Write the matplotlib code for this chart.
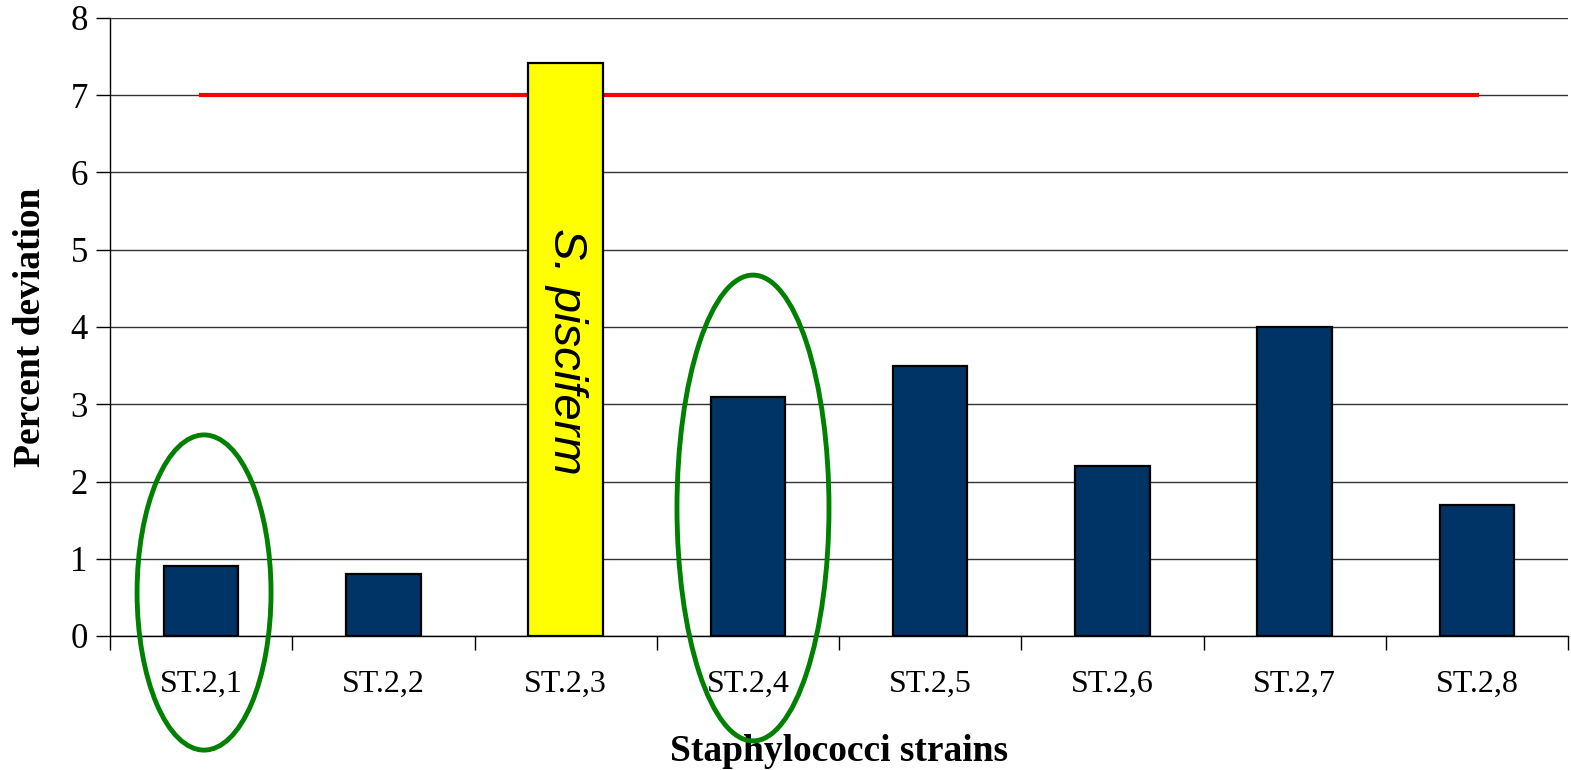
import matplotlib
matplotlib.use("Agg")
import matplotlib.pyplot as plt
from matplotlib.patches import Ellipse
import numpy as np

strains = ["ST.2,1", "ST.2,2", "ST.2,3", "ST.2,4", "ST.2,5", "ST.2,6", "ST.2,7", "ST.2,8"]
deviation = [0.9, 0.8, 7.42, 3.1, 3.5, 2.2, 4.0, 1.7]
threshold = 7.0
highlight = "ST.2,3"
highlight_label = "S. pisciferm"
circled = ["ST.2,1", "ST.2,4"]

navy = "#003366"
yellow = "#FFFF00"

plt.rcParams["font.family"] = ["Liberation Serif", "DejaVu Serif"]

fig = plt.figure(figsize=(15.71, 7.70), dpi=100)
ax = fig.add_axes([110 / 1571, (770 - 636) / 770, (1568 - 110) / 1571, (636 - 18) / 770])

x = np.arange(len(strains))
colors = [yellow if s == highlight else navy for s in strains]
ax.bar(x, deviation, width=0.41, color=colors, edgecolor="black", linewidth=1.6, zorder=3)

# threshold line across category centres
ax.plot([x[0], x[-1]], [threshold, threshold], color="#ff0000", linewidth=3, zorder=2)

ax.set_xlim(-0.5, len(strains) - 0.5)
ax.set_ylim(0, 8)
ax.set_yticks(range(0, 9))
ax.yaxis.grid(True, color="#333333", linewidth=1.0, zorder=0)
ax.set_axisbelow(True)

ax.set_xticks(x)
ax.set_xticklabels(strains, fontsize=23)
ax.set_xticks(np.arange(-0.5, len(strains)), minor=True)
ax.tick_params(axis="x", which="major", length=0, pad=24)
ax.tick_params(axis="x", which="minor", length=10, width=1, direction="out")
ax.tick_params(axis="y", length=10, width=1, direction="out", labelsize=25, pad=6)

for side in ["top", "right"]:
    ax.spines[side].set_visible(False)
ax.spines["left"].set_linewidth(1.0)
ax.spines["bottom"].set_linewidth(1.0)

ax.set_ylabel("Percent deviation", fontsize=27, fontweight="bold", labelpad=16)
ax.set_xlabel("Staphylococci strains", fontsize=27, fontweight="bold", labelpad=26)

hi = strains.index(highlight)
ax.text(hi, 3.68, highlight_label, rotation=-90, ha="center", va="center",
        fontsize=34, fontstyle="italic", family=["Liberation Sans", "DejaVu Sans"], zorder=4)

# ellipses around selected strains
ellipse_specs = {"ST.2,1": (0.016, 0.563, 0.735, 4.08), "ST.2,4": (3.028, 1.657, 0.834, 6.03)}
for s in circled:
    cx, cy, w, h = ellipse_specs[s]
    e = Ellipse((cx, cy), w, h, fill=False, edgecolor="#008000", linewidth=3.5,
                clip_on=False, zorder=5)
    ax.add_patch(e)

fig.savefig("out.png", dpi=100)
